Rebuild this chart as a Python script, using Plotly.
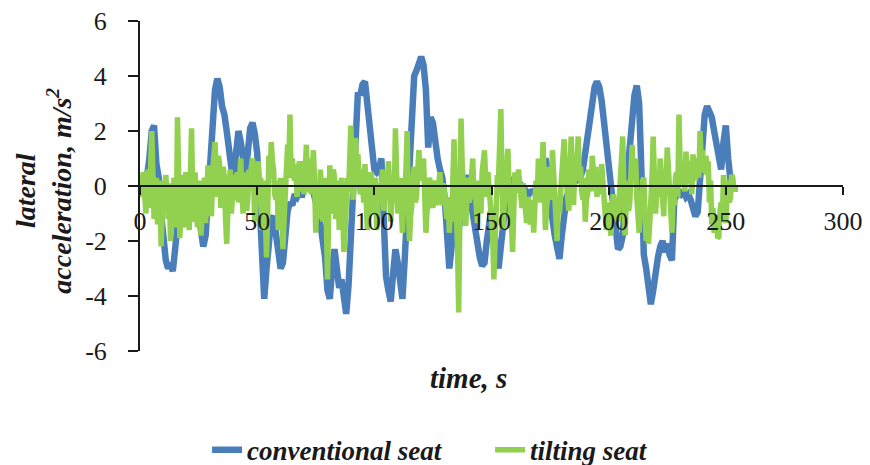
import plotly.graph_objects as go

# ---- data ----
conventional_time = list(range(0, 256))
conventional_seat = [
    0.0, 0.2, -0.3, 0.3, 1.0, 2.0, 2.2, 0.8, 0.3, -1.0,
    -2.0, -2.7, -3.0, -2.8, -3.1, -2.2, -1.0, -0.3, 0.2, -0.5,
    -1.2, -0.6, -0.2, -0.8, -0.4, -1.0, -1.6, -2.2, -1.8, -0.5,
    1.0, 2.2, 3.5, 3.9, 3.6, 2.9, 2.6, 2.0, 1.2, 0.6,
    0.0, 1.2, 2.0, 1.6, 1.0, 0.4, 1.2, 2.1, 2.3, 1.9,
    1.2, -1.0, -3.2, -4.1, -3.0, -2.0, -1.2, -1.1, -1.8, -2.6,
    -3.0, -2.8, -1.8, -0.9, -0.6, -0.7, -0.3, -0.4, -0.2, -0.4,
    -0.1, 0.0, 0.1, 0.1, -0.2, -0.5, -0.9, -1.4, -2.0, -2.6,
    -3.8, -4.1, -3.0, -2.3, -3.0, -3.7, -3.4, -4.0, -4.65, -3.6,
    -2.0, 0.0, 1.8, 3.4, 3.3, 3.7, 3.8, 3.0, 2.0, 0.9,
    0.6, 0.5, 0.6, 1.0, -1.0, -3.3, -3.8, -4.2, -3.2, -2.3,
    -2.8, -3.6, -4.1, -2.6, -1.0, 1.0, 2.6, 4.0, 4.2, 4.5,
    4.7, 4.4, 3.5, 1.4, 2.5, 2.3, 1.4, 1.0, 0.6, 0.3,
    -0.4, -1.8, -3.0, -2.2, -0.8, -1.0, -1.6, -0.9, 0.0, 0.4,
    -0.2, -0.4, -1.0, -1.6, -2.2, -2.6, -2.9, -2.8, -2.0, -1.2,
    -0.8, -1.6, -2.6, -3.0, -2.2, -1.2, -0.6, -0.3, 0.0, 0.2,
    0.3, 0.25, 0.1, 0.0, -0.1, -0.2, -0.3, -0.2, -0.2, -0.1,
    -0.1, 0.3, 0.7, 1.0, 0.6, -0.5, -1.2, -1.8, -2.3, -2.65,
    -1.8, -0.9, -0.4, -0.2, -0.1, 0.1, 0.2, 0.3, 0.35, 0.6,
    1.2, 1.8, 2.6, 3.2, 3.6, 3.8, 3.6, 3.1, 2.3, 1.2,
    0.7, -0.2, -0.9, -1.8, -2.3, -2.2, -1.8, -0.5, 0.5, 1.6,
    2.6, 3.3, 3.65, 3.0, 0.5, -2.5, -3.0, -3.5, -4.3, -3.8,
    -3.0, -2.6, -2.2, -2.0, -2.4, -2.1, -2.5, -2.7, -0.5, -0.3,
    -0.2, -0.3, -0.2, -0.4, -0.3, -0.5, -0.8, -1.1, -0.95, 0.3,
    1.5, 2.6, 2.9, 2.7, 2.5, 2.0, 1.6, 1.0, 0.6, 1.6,
    2.2, 1.0, 0.2, 0.0, -0.1, -0.1,
]

tilting_seat = [
    0.1, -0.4, 0.3, 0.5, -0.3, -1.0, 0.2, 0.6, -0.8, 0.9, 2.0, 0.5, -1.2, -0.6, 0.3, -1.4, -0.5, 0.2, -2.2, -1.1,
    0.2, -0.9, 0.4, -0.3, -1.2, 0.1, -2.0, -1.4, -0.5, 0.3, -0.8, -1.5, 2.5, 0.6, -1.9, -0.7, 0.4, -1.5, -1.0, 0.5,
    0.2, -0.7, -1.6, 0.4, 2.1, -0.4, -1.3, 0.5, -0.25, -1.5, -1.0, 0.2, -1.8, -0.9, -0.5, 0.3, -1.35, -0.6, 0.75, 0.1,
    -0.3, -1.1, 0.5, 1.0, 1.6, 0.6, -0.4, 1.1, 0.75, -0.8, -0.35, 0.7, 0.3, -1.2, -2.1, -0.9, -0.4, 0.6, -1.0, -0.2,
    0.4, -0.5, 0.0, 0.5, -0.6, 0.2, 1.0, -0.3, -1.0, 0.5, 0.1, -0.9, -0.5, 0.6, 0.2, 0.7, 1.0, 0.1, -1.3, -0.4,
    0.4, 0.9, -0.6, 0.3, -1.6, -0.8, 0.2, -1.2, -2.6, -0.9, 1.1, 0.4, 1.6, 0.9, 0.6, -0.3, -0.5, 0.2, -1.6, -0.7,
    0.3, -1.0, -2.3, -1.2, -0.4, 0.4, 1.5, 0.7, 2.6, 0.3, 1.0, 0.4, 0.2, 0.8, -0.4, 0.3, 0.9, -0.2, 0.2, 0.9,
    -0.3, 0.6, 1.5, -0.2, 0.5, 1.0, -0.3, 0.4, 1.3, 0.2, -1.7, 0.1, -0.6, -1.2, 0.6, -0.5, -1.3, -0.3, 0.3, -1.1,
    -3.4, -1.0, 0.75, -0.4, -1.0, 0.6, 0.3, -1.2, -0.8, 0.2, -1.6, -0.6, 0.3, -1.0, -2.4, -1.6, -1.0, 0.3, -0.2, 1.0,
    2.2, 0.4, -0.5, 0.6, 1.75, 0.5, 1.15, 0.2, -0.3, 0.6, 0.2, -0.6, 0.8, -0.5, -1.6, -0.7, -0.4, 0.5, 0.2, -1.0,
    -0.8, 0.3, -1.6, -0.7, 0.1, -0.6, 0.2, 0.6, -0.9, -0.2, 0.3, -0.5, 0.9, 0.1, -1.3, -0.5, 0.4, -0.6, 2.1, 0.5,
    -1.0, -0.2, 0.3, -0.8, -1.7, -0.5, -0.4, 0.6, 2.0, -0.6, -2.0, -1.1, -0.7, 0.2, 0.7, -0.6, -0.4, 0.5, 1.3, 0.4,
    0.2, 0.8, 1.0, -0.3, -1.7, -0.9, -0.6, 0.3, 0.1, -0.5, -0.8, 0.2, 0.0, -0.7, -0.3, 0.4, 0.5, -0.2, -0.7, 0.1,
    -0.3, -0.9, -1.2, -0.4, -1.7, -0.9, -1.3, 0.2, 1.7, 0.3, -0.8, -2.2, -4.6, -0.6, 2.45, 0.8, -0.25, -0.9, -1.45, -0.5,
    0.3, -0.6, -0.35, 0.4, 1.0, -0.3, 0.0, -0.8, -1.35, 0.2, -0.3, -1.0, 0.5, 0.9, 1.3, 0.3, -0.4, 0.5, 0.0, -0.7,
    -1.0, -1.8, -3.4, -1.9, -1.0, 0.4, 0.3, 1.2, 2.8, 0.2, -1.6, -0.5, 0.4, 0.9, 1.35, -0.1, -0.6, -1.3, -2.4, -0.8,
    0.5, 0.0, -0.25, 0.6, 0.2, -0.4, -0.8, 0.1, -0.3, -0.9, -1.35, -0.4, -0.6, -1.4, -1.0, -0.5, -1.7, -0.6, 0.2, -0.5,
    1.0, 0.1, -0.6, 0.5, 1.6, 0.2, -1.6, -0.8, -0.4, 0.7, 0.3, -0.5, 1.3, 0.4, -0.5, -1.3, -2.0, -0.6, -1.0, -0.2,
    0.3, 1.1, 1.7, 0.6, 0.1, -0.6, -0.9, 0.6, 1.8, 0.4, -0.7, 0.5, 0.2, 0.9, 1.8, 0.3, 0.7, -0.2, -0.5, 0.3,
    -1.3, -0.5, -0.3, 0.6, 0.4, -0.2, 1.1, 0.5, 0.2, 0.7, -0.4, 0.3, 0.2, -0.3, 0.8, 0.2, -0.25, -0.9, -1.6, -0.6,
    -0.8, -1.5, -1.8, -0.7, -0.3, -1.2, -1.0, -0.4, -1.3, -0.5, 0.3, 1.0, 1.8, -0.2, -1.8, -0.6, 0.2, -0.9, -0.6, 0.4,
    1.5, 0.4, 0.6, 1.0, -0.4, -1.2, -1.7, -0.6, -0.7, 0.2, 0.3, -1.0, -2.0, -1.2, -2.1, -1.4, -0.8, 0.3, 1.8, -0.2,
    -1.0, -0.3, 0.4, -0.4, 1.0, 0.3, -0.5, -1.1, 0.6, 0.1, 1.4, 0.5, -0.3, -0.9, -1.7, -0.5, -0.7, 0.3, 0.5, -0.4,
    2.6, 0.8, 0.0, 0.9, 0.6, -0.2, 1.25, 0.5, 0.1, 0.9, 0.4, -0.3, 1.15, 0.6, 0.2, 1.0, 0.8, 0.3, 2.0, 0.9,
    1.3, 0.5, 0.6, 1.1, 0.4, 0.9, -0.6, 0.2, -1.4, -0.8, -1.7, -1.1, -1.2, -1.9, -1.85, -0.9, -0.6, -1.3, 0.4, -0.5,
    -1.35, -0.4, 0.2, -0.6, -0.4, 0.4, 0.3, -0.2, 0.0,
]
tilting_time = [k / 2 for k in range(len(tilting_seat))]

x_tick_vals = [0, 50, 100, 150, 200, 250, 300]
x_tick_text = ["0", "50", "100", "150", "200", "250", "300"]
y_tick_vals = [-6, -4, -2, 0, 2, 4, 6]
y_tick_text = ["-6", "-4", "-2", "0", "2", "4", "6"]

BLUE = "#4a7ebb"
GREEN = "#92d050"
FONT = "Liberation Serif"
INK = "#1a1a1a"

fig = go.Figure()
fig.add_trace(go.Scatter(
    x=conventional_time, y=conventional_seat, mode="lines",
    name="conventional seat", line=dict(color=BLUE, width=6.5),
))
fig.add_trace(go.Scatter(
    x=tilting_time, y=tilting_seat, mode="lines",
    name="tilting seat", line=dict(color=GREEN, width=5.5),
))

fig.update_layout(
    width=870, height=465,
    margin=dict(l=140, r=27, t=21, b=114, autoexpand=False),
    paper_bgcolor="white", plot_bgcolor="white",
    font=dict(family=FONT, size=26, color=INK),
    showlegend=True,
    legend=dict(
        orientation="h", xref="container", yref="container",
        x=0.238, xanchor="left", y=0.032, yanchor="middle",
        font=dict(family=FONT, size=27, color=INK, style="italic", weight="bold"),
        entrywidth=238, entrywidthmode="pixels",
        bgcolor="rgba(0,0,0,0)",
    ),
    xaxis=dict(
        range=[0, 300], anchor="free", position=0.5, automargin=False,
        tickmode="array", tickvals=x_tick_vals, ticktext=x_tick_text,
        showline=True, linecolor=INK, linewidth=2,
        ticks="outside", ticklen=8, tickwidth=2, tickcolor=INK,
        ticklabelstandoff=4, ticklabeloverflow="allow",
        showgrid=False, zeroline=False,
        tickfont=dict(family=FONT, size=26, color=INK),
    ),
    yaxis=dict(
        range=[-6, 6], automargin=False,
        tickmode="array", tickvals=y_tick_vals, ticktext=y_tick_text,
        showline=True, linecolor=INK, linewidth=2,
        ticks="outside", ticklen=10, tickwidth=2, tickcolor=INK,
        ticklabelstandoff=16, ticklabeloverflow="allow",
        showgrid=False, zeroline=False,
        tickfont=dict(family=FONT, size=26, color=INK),
    ),
    annotations=[
        dict(
            text="lateral<br>acceleration, m/s<sup>2</sup>",
            xref="paper", yref="paper", x=-0.137, y=0.485,
            xanchor="center", yanchor="middle", textangle=-90, showarrow=False,
            font=dict(family=FONT, size=28, color=INK, style="italic", weight="bold"),
        ),
        dict(
            text="time, s",
            xref="paper", yref="paper", x=0.4666, y=-0.082,
            xanchor="center", yanchor="middle", showarrow=False,
            font=dict(family=FONT, size=29, color=INK, style="italic", weight="bold"),
        ),
    ],
)

# the page's default 8px body margin would shift the 870x465 figure; remove it
fig.write_html(
    "out.html",
    config={"displayModeBar": False},
    post_script="document.body.style.margin='0px';",
)
